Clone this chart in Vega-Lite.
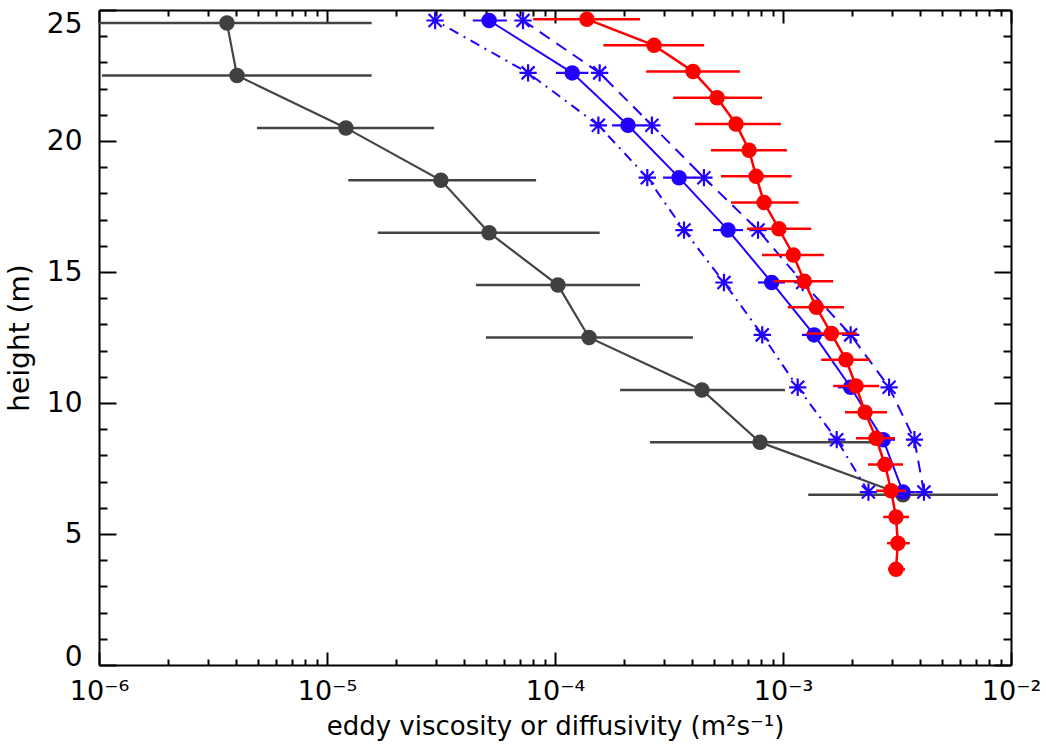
{
  "$schema": "https://vega.github.io/schema/vega-lite/v6.json",
  "width": 912,
  "height": 655,
  "autosize": "none",
  "padding": {"left": 99, "top": 10, "right": 35, "bottom": 84},
  "config": {"view": {"stroke": null}, "font": "DejaVu Sans"},
  "resolve": {"axis": {"x": "independent", "y": "independent"}},
  "data": {"values": [
    {"s":"k","h":24.5,"x":3.64e-6,"lo":8.0e-7,"hi":1.57e-5},
    {"s":"k","h":22.5,"x":4.03e-6,"lo":1.03e-6,"hi":1.57e-5},
    {"s":"k","h":20.5,"x":1.21e-5,"lo":4.93e-6,"hi":2.95e-5},
    {"s":"k","h":18.5,"x":3.16e-5,"lo":1.24e-5,"hi":8.26e-5},
    {"s":"k","h":16.5,"x":5.14e-5,"lo":1.67e-5,"hi":1.57e-4},
    {"s":"k","h":14.5,"x":1.03e-4,"lo":4.5e-5,"hi":2.36e-4},
    {"s":"k","h":12.5,"x":1.41e-4,"lo":4.98e-5,"hi":4.03e-4},
    {"s":"k","h":10.5,"x":4.41e-4,"lo":1.93e-4,"hi":1.02e-3},
    {"s":"k","h":8.5,"x":7.93e-4,"lo":2.61e-4,"hi":2.8e-3},
    {"s":"k","h":6.5,"x":3.36e-3,"lo":1.29e-3,"hi":8.77e-3},
    {"s":"bL","h":24.6,"x":2.98e-5},
    {"s":"bL","h":22.6,"x":7.62e-5},
    {"s":"bL","h":20.6,"x":1.55e-4},
    {"s":"bL","h":18.6,"x":2.54e-4},
    {"s":"bL","h":16.6,"x":3.68e-4},
    {"s":"bL","h":14.6,"x":5.51e-4},
    {"s":"bL","h":12.6,"x":8.11e-4},
    {"s":"bL","h":10.6,"x":1.16e-3},
    {"s":"bL","h":8.6,"x":1.72e-3},
    {"s":"bL","h":6.6,"x":2.37e-3},
    {"s":"bR","h":24.6,"x":7.24e-5},
    {"s":"bR","h":22.6,"x":1.57e-4},
    {"s":"bR","h":20.6,"x":2.66e-4},
    {"s":"bR","h":18.6,"x":4.5e-4},
    {"s":"bR","h":16.6,"x":7.77e-4},
    {"s":"bR","h":14.6,"x":1.22e-3},
    {"s":"bR","h":12.6,"x":1.98e-3},
    {"s":"bR","h":10.6,"x":2.92e-3},
    {"s":"bR","h":8.6,"x":3.77e-3},
    {"s":"bR","h":6.6,"x":4.15e-3},
    {"s":"b","h":24.6,"x":5.14e-5,"lo":4.36e-5,"hi":6.15e-5},
    {"s":"b","h":22.6,"x":1.19e-4,"lo":1.01e-4,"hi":1.40e-4},
    {"s":"b","h":20.6,"x":2.09e-4,"lo":1.78e-4,"hi":2.46e-4},
    {"s":"b","h":18.6,"x":3.5e-4,"lo":2.98e-4,"hi":4.15e-4},
    {"s":"b","h":16.6,"x":5.74e-4,"lo":4.93e-4,"hi":6.68e-4},
    {"s":"b","h":14.6,"x":8.92e-4,"lo":7.77e-4,"hi":1.02e-3},
    {"s":"b","h":12.6,"x":1.37e-3,"lo":1.21e-3,"hi":1.57e-3},
    {"s":"b","h":10.6,"x":1.98e-3,"lo":1.74e-3,"hi":2.22e-3},
    {"s":"b","h":8.6,"x":2.75e-3,"lo":2.45e-3,"hi":3.10e-3},
    {"s":"b","h":6.6,"x":3.36e-3,"lo":2.94e-3,"hi":3.79e-3},
    {"s":"r","h":24.65,"x":1.38e-4,"lo":8.02e-5,"hi":2.36e-4},
    {"s":"r","h":23.65,"x":2.72e-4,"lo":1.63e-4,"hi":4.51e-4},
    {"s":"r","h":22.65,"x":4.03e-4,"lo":2.51e-4,"hi":6.47e-4},
    {"s":"r","h":21.65,"x":5.14e-4,"lo":3.30e-4,"hi":8.09e-4},
    {"s":"r","h":20.65,"x":6.22e-4,"lo":4.11e-4,"hi":9.79e-4},
    {"s":"r","h":19.65,"x":7.10e-4,"lo":4.83e-4,"hi":1.04e-3},
    {"s":"r","h":18.65,"x":7.62e-4,"lo":5.35e-4,"hi":1.09e-3},
    {"s":"r","h":17.65,"x":8.26e-4,"lo":5.92e-4,"hi":1.17e-3},
    {"s":"r","h":16.65,"x":9.59e-4,"lo":6.95e-4,"hi":1.33e-3},
    {"s":"r","h":15.65,"x":1.11e-3,"lo":8.09e-4,"hi":1.51e-3},
    {"s":"r","h":14.65,"x":1.24e-3,"lo":9.14e-4,"hi":1.66e-3},
    {"s":"r","h":13.65,"x":1.40e-3,"lo":1.05e-3,"hi":1.85e-3},
    {"s":"r","h":12.65,"x":1.63e-3,"lo":1.27e-3,"hi":2.11e-3},
    {"s":"r","h":11.65,"x":1.89e-3,"lo":1.47e-3,"hi":2.41e-3},
    {"s":"r","h":10.65,"x":2.09e-3,"lo":1.66e-3,"hi":2.64e-3},
    {"s":"r","h":9.65,"x":2.29e-3,"lo":1.87e-3,"hi":2.86e-3},
    {"s":"r","h":8.65,"x":2.56e-3,"lo":2.09e-3,"hi":3.10e-3},
    {"s":"r","h":7.65,"x":2.80e-3,"lo":2.36e-3,"hi":3.36e-3},
    {"s":"r","h":6.65,"x":2.98e-3,"lo":2.56e-3,"hi":3.46e-3},
    {"s":"r","h":5.65,"x":3.13e-3,"lo":2.75e-3,"hi":3.57e-3},
    {"s":"r","h":4.65,"x":3.19e-3,"lo":2.86e-3,"hi":3.60e-3},
    {"s":"r","h":3.65,"x":3.13e-3,"lo":2.89e-3,"hi":3.43e-3}
  ]},
  "layer": [
    {
      "transform": [{"filter": "datum.s == 'k'"}],
      "mark": {"type": "rule", "color": "#444444", "strokeWidth": 2.5, "clip": true},
      "encoding": {
        "x": {"field": "lo", "type": "quantitative",
          "scale": {"type": "log", "domain": [1e-6, 1e-2], "nice": false},
          "axis": {
            "orient": "bottom",
            "title": "eddy viscosity or diffusivity (m²s⁻¹)",
            "values": [1e-6,2e-6,3e-6,4e-6,5e-6,6e-6,7e-6,8e-6,9e-6,1e-5,2e-5,3e-5,4e-5,5e-5,6e-5,7e-5,8e-5,9e-5,1e-4,2e-4,3e-4,4e-4,5e-4,6e-4,7e-4,8e-4,9e-4,1e-3,2e-3,3e-3,4e-3,5e-3,6e-3,7e-3,8e-3,9e-3,1e-2],
            "labelExpr": "abs(log(datum.value)/LN10 - round(log(datum.value)/LN10)) < 0.01 ? '10' + ['⁻⁶','⁻⁵','⁻⁴','⁻³','⁻²'][round(log(datum.value)/LN10) + 6] : ''",
            "tickSize": {"condition": {"test": "abs(log(datum.value)/LN10 - round(log(datum.value)/LN10)) < 0.01", "value": -13}, "value": -6},
            "grid": false, "domainColor": "black", "domainWidth": 2, "tickColor": "black", "tickWidth": 2,
            "labelFontSize": 27, "labelColor": "black", "labelFlush": false, "labelOverlap": false, "labelPadding": 26,
            "titleFontSize": 26, "titleFontWeight": "normal", "titleColor": "black", "titlePadding": 2
          }},
        "x2": {"field": "hi"},
        "y": {"field": "h", "type": "quantitative",
          "scale": {"domain": [0, 25], "nice": false, "zero": false},
          "axis": {
            "orient": "left",
            "title": "height (m)",
            "values": [0,1,2,3,4,5,6,7,8,9,10,11,12,13,14,15,16,17,18,19,20,21,22,23,24,25],
            "labelExpr": "datum.value % 5 == 0 ? datum.label : ''",
            "labelBaseline": {"condition": [{"test": "datum.value == 25", "value": "top"}, {"test": "datum.value == 0", "value": "alphabetic"}], "value": "middle"},
            "tickSize": {"condition": {"test": "datum.value % 5 == 0", "value": -17}, "value": -8},
            "grid": false, "domainColor": "black", "domainWidth": 2, "tickColor": "black", "tickWidth": 2,
            "labelFontSize": 28, "labelColor": "black", "labelFlush": false, "labelOverlap": false, "labelPadding": 34,
            "titleFontSize": 28, "titleFontWeight": "normal", "titleColor": "black", "titlePadding": 12
          }}
      }
    },
    {
      "transform": [{"filter": "datum.s == 'k'"}],
      "mark": {"type": "line", "color": "#444444", "strokeWidth": 2.2},
      "encoding": {
        "x": {"field": "x", "type": "quantitative", "axis": null},
        "y": {"field": "h", "type": "quantitative", "axis": null},
        "order": {"field": "h"}
      }
    },
    {
      "transform": [{"filter": "datum.s == 'k'"}],
      "mark": {"type": "point", "shape": "circle", "filled": true, "color": "#404040", "size": 240, "opacity": 1},
      "encoding": {
        "x": {"field": "x", "type": "quantitative", "axis": null},
        "y": {"field": "h", "type": "quantitative", "axis": null}
      }
    },
    {
      "transform": [{"filter": "datum.s == 'bL'"}],
      "mark": {"type": "line", "color": "#2200ff", "strokeWidth": 2, "strokeDash": [10, 6, 2, 6]},
      "encoding": {
        "x": {"field": "x", "type": "quantitative", "axis": null},
        "y": {"field": "h", "type": "quantitative", "axis": null},
        "order": {"field": "h"}
      }
    },
    {
      "transform": [{"filter": "datum.s == 'bR'"}],
      "mark": {"type": "line", "color": "#2200ff", "strokeWidth": 2, "strokeDash": [12, 8]},
      "encoding": {
        "x": {"field": "x", "type": "quantitative", "axis": null},
        "y": {"field": "h", "type": "quantitative", "axis": null},
        "order": {"field": "h"}
      }
    },
    {
      "transform": [{"filter": "datum.s == 'bL' || datum.s == 'bR'"}],
      "mark": {"type": "point", "shape": "M0,-1L0,1M-1,0L1,0M-0.75,-0.75L0.75,0.75M-0.75,0.75L0.75,-0.75", "filled": false, "color": "#2200ff", "strokeWidth": 2.2, "size": 300, "opacity": 1},
      "encoding": {
        "x": {"field": "x", "type": "quantitative", "axis": null},
        "y": {"field": "h", "type": "quantitative", "axis": null}
      }
    },
    {
      "transform": [{"filter": "datum.s == 'b'"}],
      "mark": {"type": "rule", "color": "#2200ff", "strokeWidth": 2.2},
      "encoding": {
        "x": {"field": "lo", "type": "quantitative", "axis": null},
        "x2": {"field": "hi"},
        "y": {"field": "h", "type": "quantitative", "axis": null}
      }
    },
    {
      "transform": [{"filter": "datum.s == 'b'"}],
      "mark": {"type": "line", "color": "#2200ff", "strokeWidth": 2},
      "encoding": {
        "x": {"field": "x", "type": "quantitative", "axis": null},
        "y": {"field": "h", "type": "quantitative", "axis": null},
        "order": {"field": "h"}
      }
    },
    {
      "transform": [{"filter": "datum.s == 'b'"}],
      "mark": {"type": "point", "shape": "circle", "filled": true, "color": "#2200ff", "size": 240, "opacity": 1},
      "encoding": {
        "x": {"field": "x", "type": "quantitative", "axis": null},
        "y": {"field": "h", "type": "quantitative", "axis": null}
      }
    },
    {
      "transform": [{"filter": "datum.s == 'r'"}],
      "mark": {"type": "rule", "color": "#ff0000", "strokeWidth": 2.5},
      "encoding": {
        "x": {"field": "lo", "type": "quantitative", "axis": null},
        "x2": {"field": "hi"},
        "y": {"field": "h", "type": "quantitative", "axis": null}
      }
    },
    {
      "transform": [{"filter": "datum.s == 'r'"}],
      "mark": {"type": "line", "color": "#ff0000", "strokeWidth": 2.5},
      "encoding": {
        "x": {"field": "x", "type": "quantitative", "axis": null},
        "y": {"field": "h", "type": "quantitative", "axis": null},
        "order": {"field": "h"}
      }
    },
    {
      "transform": [{"filter": "datum.s == 'r'"}],
      "mark": {"type": "point", "shape": "circle", "filled": true, "color": "#ff0000", "size": 240, "opacity": 1},
      "encoding": {
        "x": {"field": "x", "type": "quantitative",
          "axis": {
            "orient": "top", "title": null, "labels": false,
            "values": [1e-6,2e-6,3e-6,4e-6,5e-6,6e-6,7e-6,8e-6,9e-6,1e-5,2e-5,3e-5,4e-5,5e-5,6e-5,7e-5,8e-5,9e-5,1e-4,2e-4,3e-4,4e-4,5e-4,6e-4,7e-4,8e-4,9e-4,1e-3,2e-3,3e-3,4e-3,5e-3,6e-3,7e-3,8e-3,9e-3,1e-2],
            "tickSize": {"condition": {"test": "abs(log(datum.value)/LN10 - round(log(datum.value)/LN10)) < 0.01", "value": -13}, "value": -6},
            "grid": false, "domainColor": "black", "domainWidth": 2, "tickColor": "black", "tickWidth": 2
          }},
        "y": {"field": "h", "type": "quantitative",
          "axis": {
            "orient": "right", "title": null, "labels": false,
            "values": [0,1,2,3,4,5,6,7,8,9,10,11,12,13,14,15,16,17,18,19,20,21,22,23,24,25],
            "tickSize": {"condition": {"test": "datum.value % 5 == 0", "value": -17}, "value": -8},
            "grid": false, "domainColor": "black", "domainWidth": 2, "tickColor": "black", "tickWidth": 2
          }}
      }
    }
  ]
}
